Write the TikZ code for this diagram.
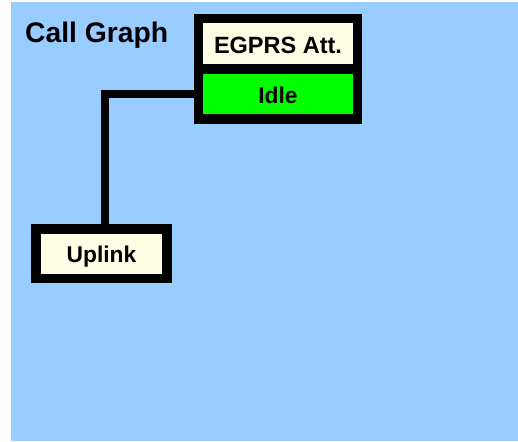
\documentclass[tikz,border=0pt]{standalone}
\usepackage{fontspec}
\setmainfont{Liberation Sans}
\definecolor{bgblue}{HTML}{99CCFF}
\definecolor{cream}{HTML}{FFFDE3}
\definecolor{idlegreen}{HTML}{00FF00}
\begin{document}
\begin{tikzpicture}[x=1pt,y=-1pt,
  outerbox/.style={rectangle, fill=black, draw=none, inner sep=0pt},
  innerbox/.style={rectangle, draw=none, inner sep=0pt, text=black, font=\bfseries\fontsize{22.8}{24}\selectfont},
  wire/.style={line width=8pt, draw=black, line join=miter}]
\useasboundingbox (0,0) rectangle (518,441);
\fill[white] (0,0) rectangle (518,441);
\fill[bgblue] (11,2) rectangle (517.5,441);
\node[anchor=base west, inner sep=0pt, font=\bfseries\fontsize{28.3}{30}\selectfont] (title) at (25,43) {Call Graph};
% top box
\node[outerbox, minimum width=168pt, minimum height=110pt] (callbox) at (278,69) {};
\node[innerbox, fill=cream, minimum width=150pt, minimum height=41pt, text height=20pt, text depth=0pt, font=\bfseries\fontsize{23.5}{25}\selectfont] (egprs) at (278,43.5) {EGPRS Att.};
\node[innerbox, fill=idlegreen, minimum width=150pt, minimum height=40pt, text height=18pt, text depth=0pt] (idle) at (278,94) {Idle};
% uplink box
\node[outerbox, minimum width=141pt, minimum height=59pt] (upbox) at (101.5,253.5) {};
\node[innerbox, fill=cream, minimum width=121pt, minimum height=40pt, text height=16pt, text depth=0pt] (uplink) at (101.5,254) {Uplink};
% connector
\coordinate (bend) at (105,94);
\draw[wire] (callbox.west |- bend) -- (bend) -- (bend |- upbox.north);
\end{tikzpicture}
\end{document}
